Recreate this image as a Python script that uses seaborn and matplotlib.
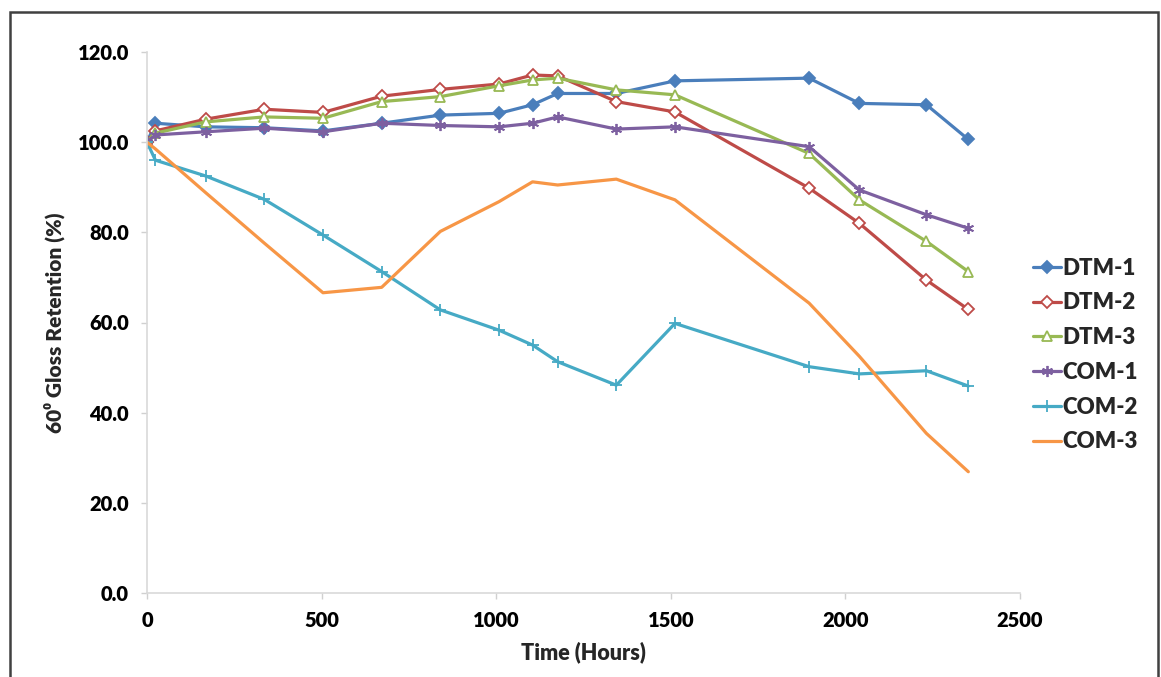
import numpy as np
import pandas as pd
import matplotlib
matplotlib.use("Agg")
import matplotlib.pyplot as plt
import seaborn as sns
from matplotlib.patches import Rectangle

# ---- data ----
hours = [0, 24, 168, 336, 504, 672, 840, 1008, 1104, 1176, 1344, 1512, 1896, 2040, 2232, 2352]
dtm1 = [100.0, 104.2, 103.4, 103.2, 102.5, 104.2, 106.0, 106.4, 108.3, 110.8, 110.8, 113.6, 114.2, 108.6, 108.3, 100.6]
dtm2 = [100.0, 102.5, 105.1, 107.3, 106.6, 110.2, 111.7, 112.9, 114.9, 114.7, 109.0, 106.7, 89.8, 82.0, 69.4, 62.9]
dtm3 = [100.0, 102.0, 104.5, 105.6, 105.3, 109.0, 110.1, 112.5, 113.8, 114.2, 111.6, 110.5, 97.5, 87.2, 78.0, 71.3]
com1 = [100.0, 101.6, 102.3, 103.1, 102.3, 104.2, 103.7, 103.4, 104.2, 105.6, 102.9, 103.4, 99.0, 89.4, 83.9, 80.9]
com2 = [100.0, 96.0, 92.5, 87.3, 79.4, 71.3, 62.8, 58.3, 55.0, 51.3, 46.1, 59.8, 50.2, 48.6, 49.3, 45.9]
com3 = [100.0, 98.5, 88.8, 77.6, 66.6, 67.8, 80.2, 86.8, 91.2, 90.5, 91.8, 87.2, 64.3, 52.5, 35.4, 26.9]

series_names = ["DTM-1", "DTM-2", "DTM-3", "COM-1", "COM-2", "COM-3"]
series_values = [dtm1, dtm2, dtm3, com1, com2, com3]

x_ticks = [0, 500, 1000, 1500, 2000, 2500]
y_ticks = [0, 20, 40, 60, 80, 100, 120]

# ---- styles ----
colors = ["#4A7EBB", "#BE4B48", "#98B954", "#7D60A0", "#46AAC5", "#F79646"]
markers = ["D", "D", "^", (6, 2, 0), "+", None]
faces = ["#4A7EBB", "white", "white", "#7D60A0", "#46AAC5", None]
msizes = [6.5, 6.5, 7.5, 8, 9, 0]

sns.set_theme(style="white")
plt.rcParams["font.family"] = ["Lato", "DejaVu Sans"]

W, H = 1161, 677
fig = plt.figure(figsize=(W / 100, H / 100), dpi=100)
ax = fig.add_axes([147 / W, 1 - 593 / H, (1020 - 147) / W, (593 - 52) / H])

for name, vals, c, m, fc, ms in zip(series_names, series_values, colors, markers, faces, msizes):
    kw = dict(color=c, linewidth=2.3, label=name)
    if m is not None:
        kw.update(marker=m, markersize=ms, markerfacecolor=fc, markeredgecolor=c,
                  markeredgewidth=1.3)
    sns.lineplot(x=hours, y=vals, ax=ax, **kw)

ax.set_xlim(0, 2500)
ax.set_ylim(0, 120)
ax.set_xticks(x_ticks)
ax.set_yticks(y_ticks)
ax.set_xticklabels([str(t) for t in x_ticks], fontsize=14.5, fontweight="heavy")
ax.set_yticklabels([f"{t:.1f}" for t in y_ticks], fontsize=14.5, fontweight="heavy")
ax.tick_params(axis="both", which="major", length=4, width=1, color="#D0D0D0",
               direction="out", pad=9, left=True, bottom=True, labelcolor="black")
ax.grid(False)
for side in ["top", "right"]:
    ax.spines[side].set_visible(False)
for side in ["left", "bottom"]:
    ax.spines[side].set_color("#D9D9D9")
    ax.spines[side].set_linewidth(1.2)

ax.set_xlabel("Time (Hours)", fontsize=15.5, fontweight="heavy", labelpad=8)
ax.set_ylabel("60\u2070 Gloss Retention (%)", fontsize=15, fontweight="heavy", labelpad=9)

handles, labels = ax.get_legend_handles_labels()
leg = ax.legend(handles, labels, loc="center left",
                bbox_to_anchor=(1013 / W, 1 - 355 / H), bbox_transform=fig.transFigure,
                frameon=False, fontsize=16, handlelength=1.25, handletextpad=0.05,
                labelspacing=0.62)
for t in leg.get_texts():
    t.set_fontweight("heavy")

# outer frame around chart
fig.patches.append(Rectangle((10 / W, -0.05), (1158 - 10) / W, 1.05 - 12 / H,
                             transform=fig.transFigure, fill=False,
                             edgecolor="#404040", linewidth=1.8))

fig.savefig("out.png", dpi=100)
